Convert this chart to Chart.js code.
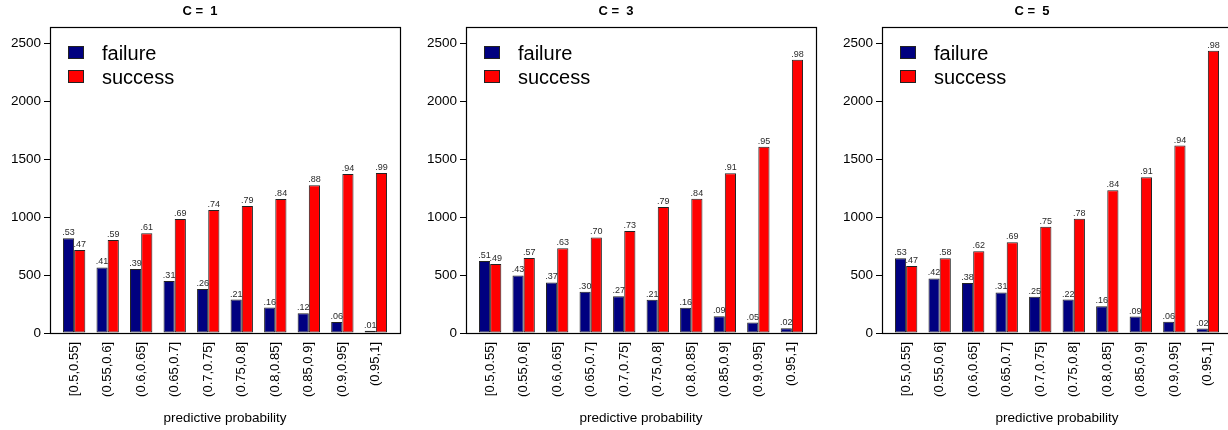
<!DOCTYPE html>
<html>
<head>
<meta charset="utf-8">
<script src="https://cdn.jsdelivr.net/npm/chart.js@4.4.1/dist/chart.umd.min.js"></script>
<style>
  html, body { margin: 0; padding: 0; background: #fff; overflow: hidden; }
  body { width: 1228px; height: 430px; position: relative; }
  .panel { position: absolute; top: 0; width: 420px; height: 430px; }
</style>
</head>
<body>
<div class="panel" style="left:0px"><canvas id="c1" width="420" height="430"></canvas></div>
<div class="panel" style="left:416px"><canvas id="c3" width="420" height="430"></canvas></div>
<div class="panel" style="left:832px"><canvas id="c5" width="420" height="430"></canvas></div>
<script>
// intervalos de probabilidade preditiva (eixo x)
const categories = ['[0.5,0.55]', '(0.55,0.6]', '(0.6,0.65]', '(0.65,0.7]', '(0.7,0.75]',
  '(0.75,0.8]', '(0.8,0.85]', '(0.85,0.9]', '(0.9,0.95]', '(0.95,1]'];
const yTicks = [0, 500, 1000, 1500, 2000, 2500];

// C = 1
const failureC1 = [818, 566, 552, 448, 379, 289, 220, 171, 95, 20];
const successC1 = [717, 803, 861, 983, 1061, 1095, 1156, 1274, 1372, 1381];
const failureLabelsC1 = ['.53', '.41', '.39', '.31', '.26', '.21', '.16', '.12', '.06', '.01'];
const successLabelsC1 = ['.47', '.59', '.61', '.69', '.74', '.79', '.84', '.88', '.94', '.99'];

// C = 3
const failureC3 = [621, 497, 436, 355, 318, 286, 217, 145, 90, 40];
const successC3 = [595, 647, 731, 824, 879, 1087, 1159, 1378, 1606, 2358];
const failureLabelsC3 = ['.51', '.43', '.37', '.30', '.27', '.21', '.16', '.09', '.05', '.02'];
const successLabelsC3 = ['.49', '.57', '.63', '.70', '.73', '.79', '.84', '.91', '.95', '.98'];

// C = 5
const failureC5 = [645, 471, 431, 350, 312, 289, 231, 142, 98, 38];
const successC5 = [578, 645, 705, 783, 916, 986, 1231, 1343, 1617, 2436];
const failureLabelsC5 = ['.53', '.42', '.38', '.31', '.25', '.22', '.16', '.09', '.06', '.02'];
const successLabelsC5 = ['.47', '.58', '.62', '.69', '.75', '.78', '.84', '.91', '.94', '.98'];

const FONT = "'Liberation Sans', Arial, Helvetica, sans-serif";
const NAVY = '#000080';
const RED = '#ff0000';
const Y_MAX = 2640;

// posicao de cada grupo como no barplot (espaco 1 + 2 barras)
const groupX = categories.map((c, i) => i * 3 + 2);
const spanMin = 1, spanMax = categories.length * 3;
const pad = (spanMax - spanMin) * 0.04;

// plugin: caixa, legenda dentro do grafico e rotulos das barras
const extrasPlugin = {
  id: 'extras',
  afterDatasetsDraw(chart) {
    const ctx = chart.ctx;
    const labelSets = chart.options.plugins.extras.barLabels;
    ctx.save();
    ctx.font = '9px ' + FONT;
    ctx.fillStyle = '#2a2a2a';
    ctx.textAlign = 'center';
    ctx.textBaseline = 'alphabetic';
    chart.data.datasets.forEach((ds, d) => {
      const meta = chart.getDatasetMeta(d);
      meta.data.forEach((bar, i) => {
        ctx.fillText(labelSets[d][i], bar.x, bar.y - 3);
      });
    });
    ctx.restore();
  },
  afterDraw(chart) {
    const ctx = chart.ctx;
    const a = chart.chartArea;
    ctx.save();
    // caixa do grafico
    ctx.strokeStyle = '#000';
    ctx.lineWidth = 1.2;
    ctx.strokeRect(Math.round(a.left) + 0.5, Math.round(a.top) + 0.5,
      Math.round(a.right - a.left), Math.round(a.bottom - a.top));
    // legenda
    ctx.font = '20px ' + FONT;
    ctx.textAlign = 'left';
    ctx.textBaseline = 'alphabetic';
    chart.data.datasets.forEach((ds, d) => {
      const sy = a.top + 19 + d * 24;
      ctx.fillStyle = ds.backgroundColor;
      ctx.fillRect(a.left + 18.5, sy, 15, 12);
      ctx.lineWidth = 1;
      ctx.strokeStyle = '#222';
      ctx.strokeRect(a.left + 18.5, sy + 0.5, 15, 12);
      ctx.fillStyle = '#000';
      ctx.fillText(ds.label, a.left + 52, a.top + 32.5 + d * 24);
    });
    ctx.restore();
  }
};

function makePanel(id, title, failure, success, failureLabels, successLabels) {
  const ctx = document.getElementById(id).getContext('2d');
  return new Chart(ctx, {
    type: 'bar',
    data: {
      datasets: [{
        label: 'failure',
        data: failure.map((v, i) => ({ x: groupX[i], y: v })),
        backgroundColor: NAVY,
        borderColor: '#222',
        borderWidth: 1,
        borderSkipped: false
      }, {
        label: 'success',
        data: success.map((v, i) => ({ x: groupX[i], y: v })),
        backgroundColor: RED,
        borderColor: '#222',
        borderWidth: 1,
        borderSkipped: false
      }]
    },
    options: {
      responsive: false,
      animation: false,
      devicePixelRatio: 1,
      categoryPercentage: 2 / 3,
      barPercentage: 1,
      layout: { padding: { left: 0, right: 20, top: 0, bottom: 0 } },
      plugins: {
        legend: { display: false },
        tooltip: { enabled: false },
        title: {
          display: true,
          text: title,
          color: '#000',
          font: { family: FONT, size: 13, weight: 'bold' },
          padding: { top: 4, bottom: 7.4 }
        },
        extras: { barLabels: [failureLabels, successLabels] }
      },
      scales: {
        x: {
          type: 'linear',
          min: spanMin - pad,
          max: spanMax + pad,
          offset: false,
          grid: { display: false },
          border: { display: false },
          afterBuildTicks: s => { s.ticks = groupX.map(v => ({ value: v })); },
          afterFit: s => { s.height = 97; },
          ticks: {
            autoSkip: false,
            minRotation: 90,
            maxRotation: 90,
            padding: 1,
            color: '#000',
            font: { family: FONT, size: 13 },
            callback: (v, i) => categories[i]
          },
          title: {
            display: true,
            text: 'predictive probability',
            color: '#000',
            font: { family: FONT, size: 13.5 },
            padding: { top: 4, bottom: 4 }
          }
        },
        y: {
          min: 0,
          max: Y_MAX,
          grid: { drawOnChartArea: false, drawTicks: true, tickLength: 6, color: '#000' },
          border: { display: false },
          afterBuildTicks: s => { s.ticks = yTicks.map(v => ({ value: v })); },
          afterFit: s => { s.width = 50; },
          ticks: {
            padding: 3,
            color: '#000',
            font: { family: FONT, size: 13.5 },
            callback: v => String(v)
          }
        }
      }
    },
    plugins: [extrasPlugin]
  });
}

makePanel('c1', 'C =  1', failureC1, successC1, failureLabelsC1, successLabelsC1);
makePanel('c3', 'C =  3', failureC3, successC3, failureLabelsC3, successLabelsC3);
makePanel('c5', 'C =  5', failureC5, successC5, failureLabelsC5, successLabelsC5);
</script>
</body>
</html>
